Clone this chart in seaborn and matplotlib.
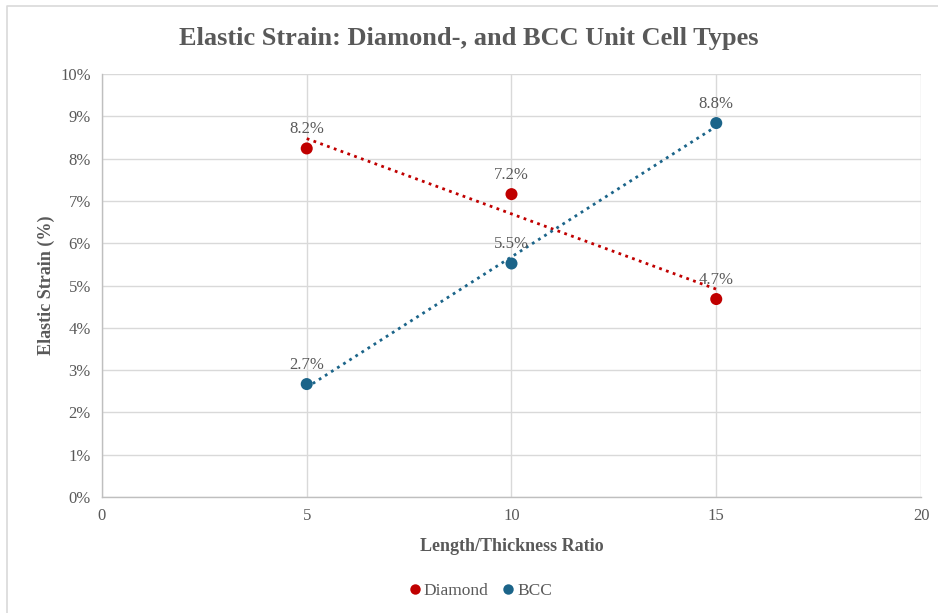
import matplotlib
matplotlib.use("Agg")
import matplotlib.pyplot as plt
import seaborn as sns
import pandas as pd
from matplotlib.lines import Line2D
from matplotlib.ticker import FuncFormatter, MultipleLocator

# Length/thickness ratio of the struts
ratios = [5, 10, 15]
# Elastic strain in percent for each unit cell type
diamond_strain = [8.24, 7.16, 4.68]
bcc_strain = [2.67, 5.52, 8.84]

series_names = ["Diamond", "BCC"]
series_colors = {"Diamond": "#C00000", "BCC": "#1B6489"}

df = pd.DataFrame({
    "ratio": ratios * 2,
    "strain": diamond_strain + bcc_strain,
    "cell": ["Diamond"] * len(ratios) + ["BCC"] * len(ratios),
})

sns.set_theme(style="white")
plt.rcParams["font.family"] = ["Liberation Serif", "DejaVu Serif"]

text_gray = "#595959"
grid_gray = "#D9D9D9"

fig = plt.figure(figsize=(9.38, 6.13), dpi=100)
ax = fig.add_axes([0.1087, 0.1892, 0.8732, 0.6901])

# Linear trendlines (dotted) over the data range
for name in series_names:
    sub = df[df["cell"] == name]
    sns.regplot(data=sub, x="ratio", y="strain", ax=ax, ci=None, scatter=False,
                truncate=True, color=series_colors[name],
                line_kws=dict(ls=(0, (1, 1.6)), lw=2.0, zorder=3))

sns.scatterplot(data=df, x="ratio", y="strain", hue="cell", palette=series_colors,
                hue_order=series_names, s=75, edgecolor="none", ax=ax, zorder=4,
                legend=False)

# Data labels above each point
for _, row in df.iterrows():
    ax.annotate(f"{row['strain']:.1f}%", (row["ratio"], row["strain"]),
                xytext=(0, 8), textcoords="offset points", ha="center", va="bottom",
                fontsize=12, color=text_gray, zorder=5)

ax.set_xlim(0, 20)
ax.set_ylim(0, 10)
ax.xaxis.set_major_locator(MultipleLocator(5))
ax.yaxis.set_major_locator(MultipleLocator(1))
ax.yaxis.set_major_formatter(FuncFormatter(lambda v, _: f"{v:.0f}%"))
ax.grid(True, color=grid_gray, lw=1.0)
ax.set_axisbelow(True)
for side in ["top", "right"]:
    ax.spines[side].set_visible(False)
for side in ["left", "bottom"]:
    ax.spines[side].set_color("#BFBFBF")
    ax.spines[side].set_linewidth(1.0)
ax.tick_params(axis="both", length=0, labelsize=12, labelcolor=text_gray, pad=8)

ax.set_xlabel("Length/Thickness Ratio", fontsize=13, fontweight="bold",
              color=text_gray, labelpad=10)
ax.set_ylabel("Elastic Strain (%)", fontsize=13, fontweight="bold",
              color=text_gray, labelpad=4)

fig.text(0.5, 0.938, "Elastic Strain: Diamond-, and BCC Unit Cell Types",
         ha="center", va="center", fontsize=19, fontweight="bold", color=text_gray)

handles = [Line2D([0], [0], marker="o", ls="none", markersize=7.5,
                  markerfacecolor=series_colors[n], markeredgecolor="none", label=n)
           for n in series_names]
leg = fig.legend(handles=handles, loc="center", bbox_to_anchor=(0.513, 0.036), ncol=2,
                 frameon=False, fontsize=12.5, handlelength=0.5, handletextpad=0.25,
                 columnspacing=0.9)
for t in leg.get_texts():
    t.set_color(text_gray)

# Thin frame around the chart area
fig.add_artist(Line2D([7 / 938, 7 / 938, 1.0], [0.0, 1 - 6 / 613, 1 - 6 / 613],
                      transform=fig.transFigure, color="#D9D9D9", lw=1.2))

fig.savefig("out.png", dpi=100)
